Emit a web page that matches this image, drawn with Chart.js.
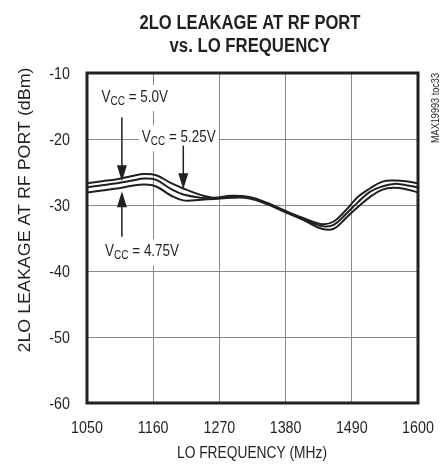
<!DOCTYPE html>
<html>
<head>
<meta charset="utf-8">
<script src="https://cdn.jsdelivr.net/npm/chart.js@4.4.1/dist/chart.umd.min.js"></script>
<style>
  html, body { margin: 0; padding: 0; background: #fff; }
  #wrap { width: 445px; height: 464px; position: relative; }
</style>
</head>
<body>
<div id="wrap"><canvas id="c"></canvas></div>
<script>
// 2LO leakage at RF port vs. LO frequency, three supply voltages.
// Text is drawn by hand with a horizontal squeeze so it reads like the
// condensed Helvetica of the datasheet (no narrow font is installed).
const FONT = "'Liberation Sans', Arial, sans-serif";
const INK = "#231f20";
const SQUEEZE = 0.84;

const loFreqMHz = [1050, 1075, 1100, 1125, 1145, 1165, 1190, 1210, 1240, 1260, 1290, 1320,
  1350, 1380, 1410, 1440, 1460, 1480, 1500, 1520, 1540, 1560, 1580, 1600];
const leakVcc525 = [-26.7, -26.4, -26.1, -25.6, -25.3, -25.5, -26.7, -27.5, -28.5, -28.9, -28.6, -28.8,
  -29.7, -30.9, -32.0, -32.9, -32.5, -30.8, -28.8, -27.5, -26.5, -26.3, -26.4, -26.7];
const leakVcc50 = [-27.3, -27.0, -26.7, -26.3, -26.0, -26.2, -27.6, -28.4, -28.9, -29.0, -28.7, -28.9,
  -29.8, -31.0, -32.2, -33.2, -33.0, -31.4, -29.6, -28.0, -27.2, -26.8, -27.0, -27.3];
const leakVcc475 = [-28.1, -27.8, -27.5, -27.1, -26.9, -27.2, -28.6, -29.3, -29.2, -29.1, -28.9, -29.0,
  -29.9, -31.1, -32.3, -33.6, -33.6, -32.0, -30.3, -28.8, -27.7, -27.4, -27.6, -28.1];

const xTicks = [1050, 1160, 1270, 1380, 1490, 1600];
const yTicks = [-60, -50, -40, -30, -20, -10];

// curve labels: text anchor (freq, dBm) and arrow from/to in dBm at a given freq
const curveLabels = [
  { volts: "5.0V", x: 1074, y: -14.4, arrowX: 1108, from: -16.7, to: -26.4 },
  { volts: "5.25V", x: 1141, y: -20.5, arrowX: 1210, from: -21.0, to: -27.6 },
  { volts: "4.75V", x: 1080, y: -37.8, arrowX: 1108, from: -34.8, to: -27.9 },
];

function series(vals) {
  return {
    data: loFreqMHz.map((f, i) => ({ x: f, y: vals[i] })),
    borderColor: INK,
    borderWidth: 2,
    pointRadius: 0,
    tension: 0.4,
    fill: false,
  };
}

// draw text squeezed horizontally; align is 'left' | 'center' | 'right'
function text(ctx, str, x, y, size, opts = {}) {
  ctx.save();
  ctx.font = (opts.bold ? "bold " : "") + size + "px " + FONT;
  const w = ctx.measureText(str).width;
  const k = opts.width ? opts.width / w : SQUEEZE;
  ctx.translate(x, y);
  if (opts.rotate) ctx.rotate(opts.rotate);
  ctx.scale(k, 1);
  ctx.textAlign = opts.align || "left";
  ctx.textBaseline = opts.baseline || "alphabetic";
  ctx.fillStyle = INK;
  ctx.fillText(str, 0, 0);
  ctx.restore();
  return w * k;
}

function vccWidth(ctx, volts) {
  ctx.font = "16px " + FONT;
  let w = ctx.measureText("V" + " = " + volts).width;
  ctx.font = "12px " + FONT;
  w += ctx.measureText("CC").width;
  return w * SQUEEZE;
}

function drawVcc(ctx, x, y, volts) {
  let cx = x;
  cx += text(ctx, "V", cx, y, 16);
  cx += text(ctx, "CC", cx, y + 3, 12);
  text(ctx, " = " + volts, cx, y, 16);
}

function arrow(ctx, x, y0, y1) {
  const dir = y1 > y0 ? 1 : -1;
  ctx.strokeStyle = INK;
  ctx.lineWidth = 1.5;
  ctx.beginPath();
  ctx.moveTo(x, y0);
  ctx.lineTo(x, y1 - dir * 14);
  ctx.stroke();
  ctx.beginPath();
  ctx.moveTo(x, y1);
  ctx.lineTo(x - 5, y1 - dir * 16);
  ctx.lineTo(x + 5, y1 - dir * 16);
  ctx.closePath();
  ctx.fillStyle = INK;
  ctx.fill();
}

const decorations = {
  id: "decorations",
  beforeDatasetsDraw(chart) {
    const { ctx, scales } = chart;
    ctx.save();
    ctx.fillStyle = "#fff";
    for (const l of curveLabels) {
      const px = scales.x.getPixelForValue(l.x);
      const py = scales.y.getPixelForValue(l.y);
      ctx.fillRect(px - 3, py - 17, vccWidth(ctx, l.volts) + 6, 26);
    }
    ctx.restore();
  },
  afterDatasetsDraw(chart) {
    const { ctx, scales, chartArea: a } = chart;
    ctx.save();
    for (const l of curveLabels) {
      drawVcc(ctx, scales.x.getPixelForValue(l.x), scales.y.getPixelForValue(l.y), l.volts);
      const ax = scales.x.getPixelForValue(l.arrowX);
      arrow(ctx, ax, scales.y.getPixelForValue(l.from), scales.y.getPixelForValue(l.to));
    }
    // frame
    ctx.strokeStyle = INK;
    ctx.lineWidth = 3;
    ctx.strokeRect(a.left, a.top, a.right - a.left, a.bottom - a.top);

    // tick labels
    for (const v of xTicks) {
      text(ctx, String(v), scales.x.getPixelForValue(v), 433, 17, { align: "center" });
    }
    for (const v of yTicks) {
      text(ctx, String(v), 70, scales.y.getPixelForValue(v) + 6, 17, { align: "right" });
    }

    // title
    text(ctx, "2LO LEAKAGE AT RF PORT", 250, 29, 20, { bold: true, align: "center", width: 221 });
    text(ctx, "vs. LO FREQUENCY", 250, 52, 20, { bold: true, align: "center", width: 161 });

    // axis titles
    text(ctx, "LO FREQUENCY (MHz)", 252, 458, 17, { align: "center", width: 150 });
    text(ctx, "2LO LEAKAGE AT RF PORT (dBm)", 30, 210, 16, { align: "center", width: 285, rotate: -Math.PI / 2 });

    // part number tag
    text(ctx, "MAX19993 toc33", 439, 108, 10, { align: "center", width: 70, rotate: -Math.PI / 2 });
    ctx.restore();
  },
};

new Chart(document.getElementById("c"), {
  type: "line",
  data: { datasets: [series(leakVcc525), series(leakVcc50), series(leakVcc475)] },
  options: {
    responsive: true,
    maintainAspectRatio: false,
    animation: false,
    events: [],
    layout: { padding: { top: 73, right: 27, left: 0, bottom: 0 } },
    plugins: { legend: { display: false }, tooltip: { enabled: false }, title: { display: false } },
    scales: {
      x: {
        type: "linear",
        min: 1050,
        max: 1600,
        afterBuildTicks: (s) => { s.ticks = xTicks.map((v) => ({ value: v })); },
        afterFit: (s) => { s.height = 61; },
        grid: { color: "#8a8a8a", lineWidth: 1, drawTicks: false },
        border: { display: false },
        ticks: { display: false },
      },
      y: {
        min: -60,
        max: -10,
        afterBuildTicks: (s) => { s.ticks = yTicks.map((v) => ({ value: v })); },
        afterFit: (s) => { s.width = 87; },
        grid: { color: "#8a8a8a", lineWidth: 1, drawTicks: false },
        border: { display: false },
        ticks: { display: false },
      },
    },
  },
  plugins: [decorations],
});
</script>
</body>
</html>
